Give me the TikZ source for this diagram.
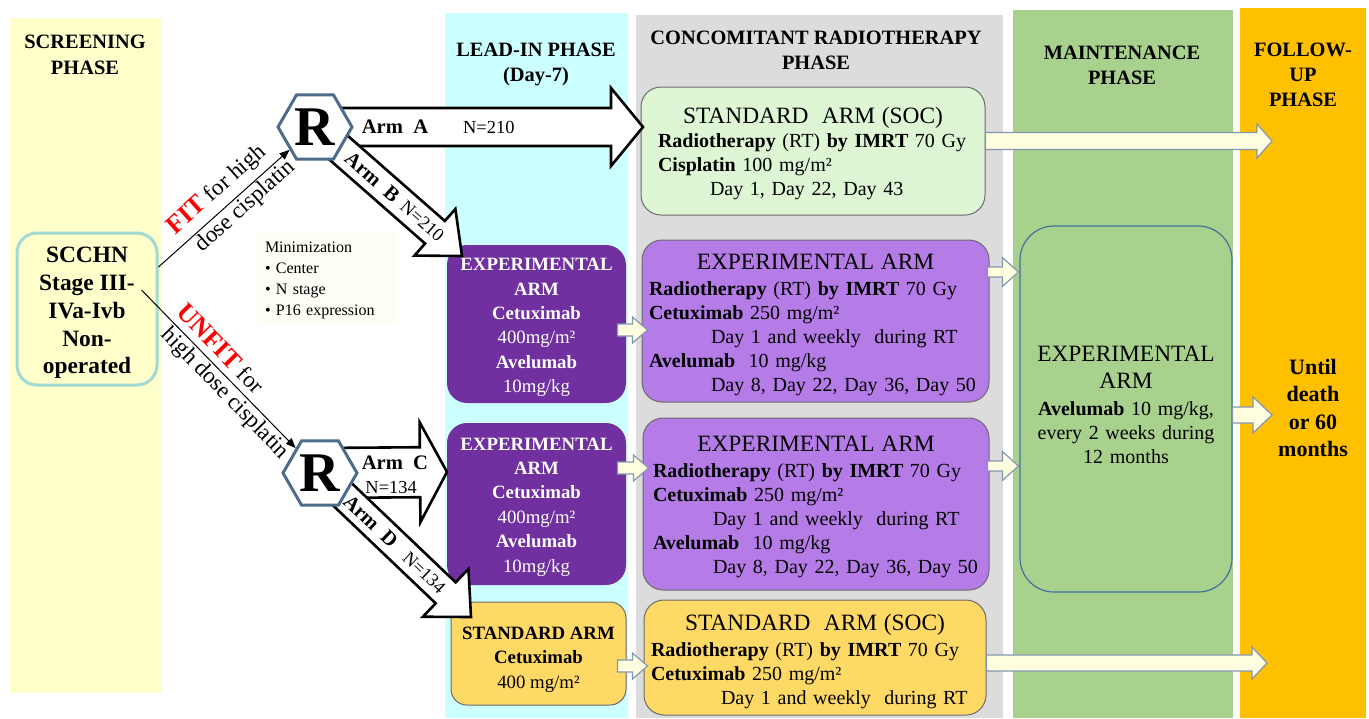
\documentclass[tikz,border=0pt]{standalone}
\usepackage{fontspec}
\setmainfont{Liberation Serif}
\usetikzlibrary{positioning,arrows.meta,shapes.geometric,calc}

\definecolor{screenband}{HTML}{FFFFCC}
\definecolor{leadband}{HTML}{CCFFFF}
\definecolor{concband}{HTML}{DCDCDC}
\definecolor{maintband}{HTML}{A9D18E}
\definecolor{followband}{HTML}{FFC000}
\definecolor{darkpurple}{HTML}{7030A0}
\definecolor{lightpurple}{HTML}{B57CE8}
\definecolor{socgreen}{HTML}{DEF6D4}
\definecolor{stdyellow}{HTML}{FFD966}
\definecolor{hexline}{HTML}{4F6B8C}
\definecolor{scchnline}{HTML}{A0DAD2}
\definecolor{maintline}{HTML}{41719C}
\definecolor{boxline}{HTML}{6B6B6B}
\definecolor{arrowfill}{HTML}{FFFFE0}
\definecolor{arrowline}{HTML}{8497B0}
\definecolor{minibg}{HTML}{FFFEF4}

\newcommand{\fsz}[2]{\fontsize{#1}{#2}\selectfont}
\newcommand{\boxtitle}[1]{\makebox[\linewidth]{\fsz{11.7}{12}#1}}

% block arrow: [style]{start}{tip}{shaft half width}{head half width}{head length}
\newcommand{\blockarrow}[6][]{%
  \path (#2) coordinate (ba-s) (#3) coordinate (ba-t);
  \path ($(ba-t)!#6!(ba-s)$) coordinate (ba-h);
  \draw[#1] ($(ba-s)!#4!90:(ba-t)$) -- ($(ba-h)!#4!90:(ba-t)$)
    -- ($(ba-h)!#5!90:(ba-t)$) -- (ba-t) -- ($(ba-h)!#5!-90:(ba-t)$)
    -- ($(ba-h)!#4!-90:(ba-t)$) -- ($(ba-s)!#4!-90:(ba-t)$) -- cycle;}

\tikzset{
  phasehead/.style={font=\bfseries\fsz{10.2}{12.5}, align=center},
  leadbox/.style={rounded corners=10pt, inner sep=0pt},
  leadtext/.style={inner sep=0pt, align=center, font=\fsz{9.4}{12.2}},
  concbox/.style={rounded corners=10pt, draw=boxline, line width=0.5pt, inner sep=0pt},
  conctext/.style={inner sep=0pt, align=left, font=\fsz{10}{12}},
  bigarrow/.style={draw=black, line width=1.3pt, fill=white},
  smallarrow/.style={draw=arrowline, line width=0.6pt, fill=arrowfill},
  thinarrow/.style={draw=black, line width=0.5pt, -{Triangle[length=5pt,width=4pt]}},
  rbox/.style={regular polygon, regular polygon sides=6, minimum size=37pt, inner sep=0pt,
    draw=hexline, line width=1.5pt, fill=white, font=\bfseries\fsz{28}{28}},
  armlabel/.style={font=\bfseries\fsz{10.3}{12}, inner sep=0pt},
  nlabel/.style={font=\fsz{9.2}{11}, inner sep=0pt},
  fitlabel/.style={font=\fsz{11.5}{13}, inner sep=1pt, sloped},
}

\begin{document}
\begin{tikzpicture}[x=0.5pt, y=-0.5pt]
  \fill[white] (0,0) rectangle (1369,718);
  \useasboundingbox (0,0) rectangle (1369,718);

  % phase bands
  \fill[screenband] (10,18) rectangle (162,693);
  \fill[leadband] (445,13) rectangle (628,718);
  \fill[concband] (636,15) rectangle (1003,718);
  \fill[maintband] (1013,10) rectangle (1233,718);
  \fill[followband] (1240,8) rectangle (1366,718);

  \node[phasehead, font=\bfseries\fsz{10.2}{13}] (h-screen) at (85,55) {SCREENING\\PHASE};
  \node[phasehead] (h-lead) at (536,64) {LEAD-IN PHASE\\(Day-7)};
  \node[phasehead] (h-conc) at (816,50) {CONCOMITANT RADIOTHERAPY\\PHASE};
  \node[phasehead] (h-maint) at (1122,65) {MAINTENANCE\\PHASE};
  \node[phasehead] (h-follow) at (1303,75) {FOLLOW-\\UP\\PHASE};

  % screening
  \node[draw=scchnline, line width=1.5pt, fill=screenband, rounded corners=10pt,
        minimum width=70pt, minimum height=76pt] (scchn) at (87,309) {};
  \node[align=center, inner sep=0pt, font=\bfseries\fsz{11.7}{13.9}] (scchn-txt)
    at ($(scchn.center)+(0,4)$) {SCCHN\\Stage III-\\IVa-Ivb\\Non-\\operated};
  \node[fill=minibg, minimum width=70pt, minimum height=46pt] (minim) at (327,277) {};
  \node[text width=62pt, inner sep=0pt, align=left, font=\fsz{8}{10.5}] (minim-txt)
    at ($(minim.center)+(0,3)$) {Minimization\\• Center\\• N stage\\• P16 expression};

  % lead-in phase
  \node[leadbox, fill=darkpurple, minimum width=89.5pt, minimum height=79pt] (lead1) at (536.5,324) {};
  \node[leadtext, text=white] (lead1-txt) at ($(lead1.center)+(0,3.5)$)
    {\textbf{EXPERIMENTAL}\\\textbf{ARM}\\\textbf{Cetuximab}\\400mg/m²\\\textbf{Avelumab}\\10mg/kg};
  \node[leadbox, fill=darkpurple, minimum width=89.5pt, minimum height=81pt] (lead2) at (536.5,504) {};
  \node[leadtext, text=white] (lead2-txt) at ($(lead2.center)+(0,3)$)
    {\textbf{EXPERIMENTAL}\\\textbf{ARM}\\\textbf{Cetuximab}\\400mg/m²\\\textbf{Avelumab}\\10mg/kg};
  \node[leadbox, fill=stdyellow, draw=boxline, line width=0.5pt, rounded corners=8pt,
        minimum width=87.5pt, minimum height=51.5pt] (leadstd) at (538.5,653.5) {};
  \node[leadtext] (leadstd-txt) at ($(leadstd.center)+(0,6)$)
    {\textbf{STANDARD ARM}\\\textbf{Cetuximab}\\400 mg/m²};

  % concomitant radiotherapy phase
  \node[concbox, fill=socgreen, minimum width=172pt, minimum height=64pt] (soc) at (813,151) {};
  \node[conctext, text width=155pt] (soc-txt) at ($(soc.center)+(0,3)$)
    {\boxtitle{STANDARD\ \ ARM (SOC)}\\
     \textbf{Radiotherapy} (RT) \textbf{by IMRT} 70 Gy\\
     \textbf{Cisplatin} 100 mg/m²\\
     \hspace*{26pt}Day 1, Day 22, Day 43};
  \node[concbox, fill=lightpurple, minimum width=173.5pt, minimum height=81pt] (cexp1) at (815.5,321) {};
  \node[conctext, text width=166.5pt] (cexp1-txt) at ($(cexp1.center)+(0,3.5)$)
    {\boxtitle{EXPERIMENTAL\ ARM}\\[1pt]
     \textbf{Radiotherapy} (RT) \textbf{by IMRT} 70 Gy\\
     \textbf{Cetuximab} 250 mg/m²\\
     \hspace*{31pt}Day 1 and weekly\ \ during RT\\
     \textbf{Avelumab}\ \ 10 mg/kg\\
     \hspace*{31pt}Day 8, Day 22, Day 36, Day 50};
  \node[concbox, fill=lightpurple, minimum width=173pt, minimum height=86pt] (cexp2) at (816,504) {};
  \node[conctext, text width=163pt] (cexp2-txt) at ($(cexp2.center)+(0,3)$)
    {\boxtitle{EXPERIMENTAL\ ARM}\\[1pt]
     \textbf{Radiotherapy} (RT) \textbf{by IMRT} 70 Gy\\
     \textbf{Cetuximab} 250 mg/m²\\
     \hspace*{30pt}Day 1 and weekly\ \ during RT\\
     \textbf{Avelumab}\ \ 10 mg/kg\\
     \hspace*{30pt}Day 8, Day 22, Day 36, Day 50};
  \node[concbox, fill=stdyellow, minimum width=171pt, minimum height=57.5pt] (cstd) at (815,657.5) {};
  \node[conctext, text width=164pt] (cstd-txt) at ($(cstd.center)+(0,4)$)
    {\boxtitle{STANDARD\ \ ARM (SOC)}\\[1pt]
     \textbf{Radiotherapy} (RT) \textbf{by IMRT} 70 Gy\\
     \textbf{Cetuximab} 250 mg/m²\\
     \hspace*{35pt}Day 1 and weekly\ \ during RT};

  % maintenance and follow-up
  \node[draw=maintline, line width=0.6pt, fill=maintband, rounded corners=17pt,
        minimum width=106pt, minimum height=183pt] (maint) at (1126,409) {};
  \node[text width=100pt, inner sep=0pt, align=center, font=\fsz{10}{12}] (maint-txt)
    at ($(maint.center)+(0,-4.5)$)
    {\fsz{11.7}{12}EXPERIMENTAL\\[1.5pt]ARM\\[1.5pt]
     \fsz{10}{12}\textbf{Avelumab} 10 mg/kg,\\every 2 weeks during\\12 months};
  \node[font=\bfseries\fsz{11}{13.8}, align=center] (follow) at (1313,408)
    {Until\\death\\or 60\\months};

  % small arrows between phases
  \blockarrow[smallarrow]{$(lead1.east)+(-9,6)$}{$(cexp1.west)+(6,9)$}{3pt}{6.5pt}{7.5pt}
  \blockarrow[smallarrow]{$(lead2.east)+(-9,-36)$}{$(cexp2.west)+(6,-36)$}{3pt}{6.5pt}{7.5pt}
  \blockarrow[smallarrow]{$(leadstd.east)+(-9,12.5)$}{$(cstd.west)+(4,8.5)$}{3pt}{6.5pt}{7.5pt}
  \blockarrow[smallarrow]{$(cexp1.east)+(-2,-49)$}{$(maint.west)+(-1,-137)$}{2.5pt}{7.25pt}{8pt}
  \blockarrow[smallarrow]{$(cexp2.east)+(-2,-38)$}{$(maint.west)+(-1,57)$}{2.5pt}{7.25pt}{8pt}
  \coordinate (soc-end) at (1272,141);
  \coordinate (cstd-end) at (1267,663);
  \coordinate (maint-end) at (1272,415);
  \blockarrow[smallarrow]{$(soc.east)+(0,-10)$}{soc-end}{4.25pt}{8.5pt}{7.5pt}
  \blockarrow[smallarrow]{$(cstd.east)+(0,5.5)$}{cstd-end}{4pt}{8pt}{7.5pt}
  \blockarrow[smallarrow]{$(maint.east)+(0,6)$}{maint-end}{4pt}{9pt}{9.5pt}

  % randomisation arms
  \coordinate (rtop-c) at (315,127);
  \coordinate (rbot-c) at (320,473);
  \coordinate (armA-t) at (643,127);
  \coordinate (armB-t) at (462,256);
  \coordinate (armC-t) at (447,472);
  \coordinate (armD-t) at (471,617);
  \blockarrow[bigarrow]{rtop-c}{armA-t}{9.5pt}{19.5pt}{16pt}
  \blockarrow[bigarrow]{rtop-c}{armB-t}{7.5pt}{15.5pt}{18pt}
  \blockarrow[bigarrow]{rbot-c}{armC-t}{12.5pt}{25pt}{13.5pt}
  \blockarrow[bigarrow]{rbot-c}{armD-t}{7.25pt}{16.5pt}{17.5pt}
  \path (rtop-c) -- node[armlabel, pos=0.244] {Arm\ \ A} node[nlabel, pos=0.53] {N=210} (armA-t);
  \path (rtop-c) -- node[armlabel, pos=0.39, sloped] {Arm\ \ B} node[nlabel, pos=0.73, sloped] {N=210} (armB-t);
  \path (rbot-c) -- node[armlabel, pos=0.59, yshift=5pt] {Arm\ \ C} node[nlabel, pos=0.56, yshift=-7.5pt] {N=134} (armC-t);
  \path (rbot-c) -- node[armlabel, pos=0.336, sloped] {Arm\ \ D} node[nlabel, pos=0.69, sloped] {N=134} (armD-t);

  \node[rbox] (rtop) at (rtop-c) {R};
  \node[rbox] (rbot) at (rbot-c) {R};

  % fitness split
  \draw[thinarrow] ($(scchn.east)+(0,-42)$) --
    node[fitlabel, pos=0.54, above=2.5pt] {\textcolor{red}{\bfseries\fsz{13}{14}FIT} for high}
    node[fitlabel, pos=0.6, below] {dose cisplatin} (rtop);
  \draw[thinarrow] ($(scchn.east)+(-17,-19)$) --
    node[fitlabel, pos=0.44, above=2.5pt] {\textcolor{red}{\bfseries\fsz{13}{14}UNFIT} for}
    node[fitlabel, pos=0.6, below] {high dose cisplatin} (rbot);
\end{tikzpicture}
\end{document}
